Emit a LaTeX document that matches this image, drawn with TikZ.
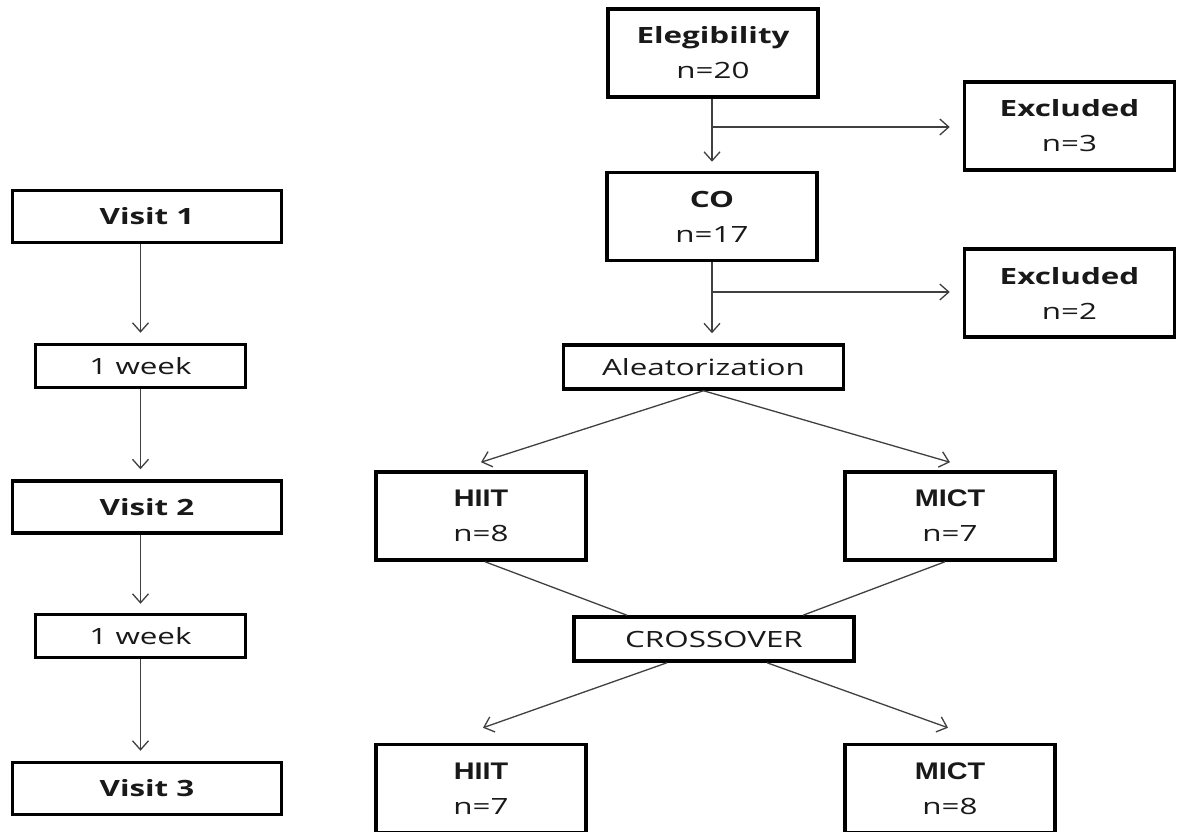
\documentclass[tikz,border=0pt]{standalone}
\usepackage{fontspec}
\setmainfont{Open Sans}[FakeStretch=1.4]
\newfontfamily\arialf{Liberation Sans}[FakeStretch=1.2]
\usetikzlibrary{arrows.meta,calc}
\begin{document}
\begin{tikzpicture}[x=1pt,y=-1pt,
  box/.style={draw=black,line width=3.5pt,align=center,inner sep=0pt,
    text=black!90,font=\fontsize{22.4}{35}\selectfont},
  big/.style={box,minimum width=210pt,minimum height=88pt},
  visit/.style={box,minimum width=269pt,minimum height=52pt},
  week/.style={box,minimum width=210pt,minimum height=43pt},
  wide/.style={box,minimum width=280pt,minimum height=44pt},
  arr/.style={draw=black!75,line width=1.3pt,-{Straight Barb[length=9pt,width=16pt]}},
  ln/.style={draw=black!75,line width=1.3pt},
  hd/.style={font=\arialf\bfseries\fontsize{24}{35}\selectfont}
]
\useasboundingbox[fill=white] (0,0) rectangle (1178,832);

% right column
\node[big] (elig) at (713,53) {{\bfseries Elegibility}\\n=20};
\node[big] (co) at (712,216.5) {{\bfseries CO}\\n=17};
\node[big] (excl1) at (1069.5,126) {{\bfseries Excluded}\\n=3};
\node[big] (excl2) at (1069.5,293) {{\bfseries Excluded}\\n=2};
\node[wide] (aleat) at (703.5,367) {Aleatorization};
\node[big] (hiit1) at (481,516) {{\arialf\bfseries\fontsize{24}{35}\selectfont HIIT}\\n=8};
\node[big] (mict1) at (950,516) {{\arialf\bfseries\fontsize{24}{35}\selectfont MICT}\\n=7};
\node[wide] (cross) at (714,639) {CROSSOVER};
\node[big] (hiit2) at (481,788.5) {{\arialf\bfseries\fontsize{24}{35}\selectfont HIIT}\\n=7};
\node[big] (mict2) at (950,788.5) {{\arialf\bfseries\fontsize{24}{35}\selectfont MICT}\\n=8};

% left column
\node[visit] (v1) at (147,216.5) {\bfseries Visit 1};
\node[week] (w1) at (140.5,366) {1 week};
\node[visit] (v2) at (147,507) {\bfseries Visit 2};
\node[week] (w2) at (140.5,636) {1 week};
\node[visit] (v3) at (147,788.5) {\bfseries Visit 3};

% left connectors
\draw[arr] (w1.north |- v1.south) -- ([yshift=10pt]w1.north);
\draw[arr] (w1.south) -- ([yshift=10pt]w1.north |- v2.north);
\draw[arr] (w2.north |- v2.south) -- ([yshift=9pt]w2.north);
\draw[arr] (w2.south) -- ([yshift=10pt]w2.north |- v3.north);

% right connectors
\coordinate (b1) at (712,127);
\coordinate (b2) at (712,292);
\draw[arr] (co.north |- elig.south) -- ([yshift=9pt]co.north);
\draw[arr] (b1) -- ([xshift=-13pt]b1 -| excl1.west);
\draw[arr] (co.south) -- ([yshift=10pt]co.south |- aleat.north);
\draw[arr] (b2) -- ([xshift=-13pt]b2 -| excl2.west);
\draw[arr] (aleat.south) -- ([yshift=8pt]hiit1.north);
\draw[arr] (aleat.south) -- ([yshift=8pt]mict1.north);
\draw[ln] ([xshift=4pt]hiit1.south) -- ([xshift=-87pt]cross.north);
\draw[ln] ([xshift=-5pt]mict1.south) -- ([xshift=89pt]cross.north);
\draw[arr] ([xshift=-47pt]cross.south) -- ([yshift=15pt,xshift=2pt]hiit2.north);
\draw[arr] ([xshift=53pt]cross.south) -- ([yshift=15pt,xshift=-2pt]mict2.north);
\end{tikzpicture}
\end{document}
